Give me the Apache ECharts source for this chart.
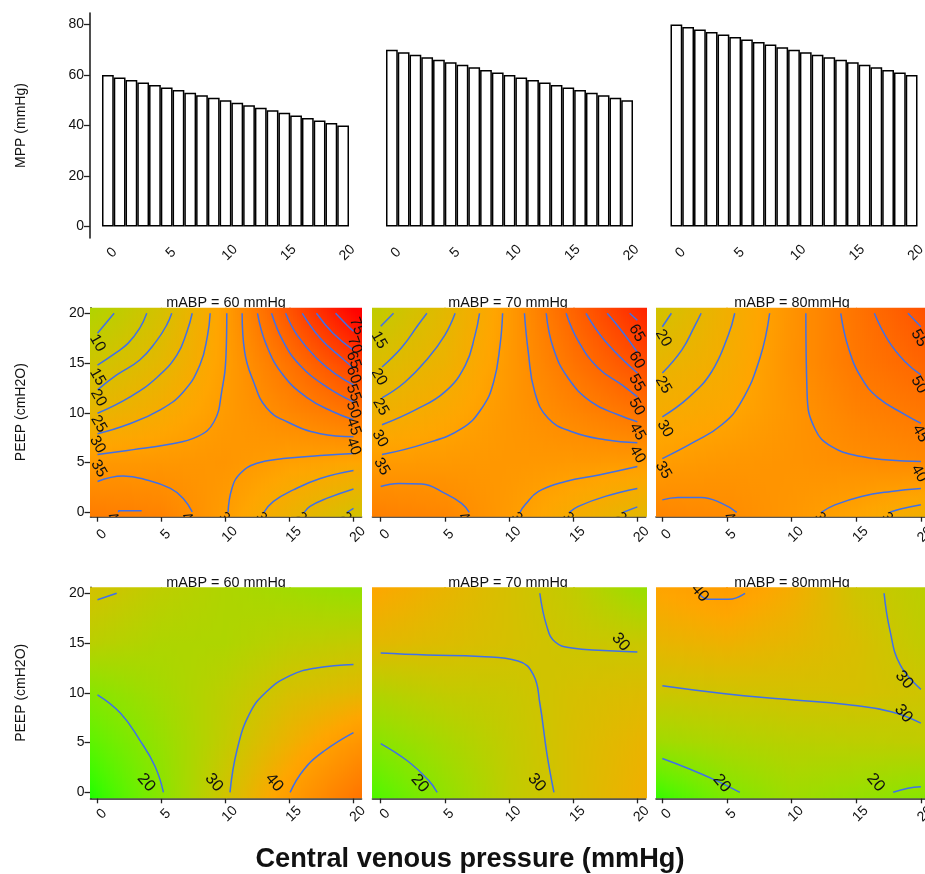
<!DOCTYPE html>
<html><head><meta charset="utf-8">
<style>html,body{margin:0;padding:0;background:#fff;overflow:hidden}#c{width:925px;height:874px;filter:blur(0.55px)}</style>
<script src="https://cdn.jsdelivr.net/npm/echarts@6/dist/echarts.min.js"></script>
</head><body><div id="c"></div>
<script>
const cvpCategories=['0','1','2','3','4','5','6','7','8','9','10','11','12','13','14','15','16','17','18','19','20'];
const mpp60=[60,59,58,57,56,55,54,53,52,51,50,49,48,47,46,45,44,43,42,41,40];
const mpp70=[70,69,68,67,66,65,64,63,62,61,60,59,58,57,56,55,54,53,52,51,50];
const mpp80=[80,79,78,77,76,75,74,73,72,71,70,69,68,67,66,65,64,63,62,61,60];
const tickLabels=[0,5,10,15,20];
const mppTicks=[0,20,40,60,80];
const nodes=[0,5,10,15,20];
// surface values at nodes; rows run from PEEP 20 down to PEEP 0
const upper60=[[7,18,35,56,78],[16,23.5,35,47.5,61],[25,30,36,41.5,47],[36.5,37,37.5,34.5,33],[44,42.5,35.5,27,19]];
const upper70=[[12.5,23,36,51.5,67],[20.5,26.5,36.5,47,57],[27.5,31.5,37,42,47],[36,36.5,37,36.5,36],[43,41.5,36,30,24.5]];
const upper80=[[18,28,38,47,56],[25,29.5,38.5,46,51],[30,32.5,37.5,43,46],[35.5,37,38,39.5,41],[41.5,40.2,37,33.5,29]];
const lower60=[[30,27,25,23.5,22],[26.5,25,25,27,28],[20,23.5,27,31,33],[15,21.5,28,35,42],[10,20,30,40,50]];
const lower70=[[37,34,31,28,23],[33,32,31,29.5,29],[26,28,29,31,32],[20,24,28,31.5,34],[14,21,27.5,31.5,35]];
const lower80=[[38,40,36,30,27],[34,35,33.5,31.5,28],[29.5,30,30.7,31,30],[23,25,26.5,27,27.5],[12,19,23,22,20.5]];
// contour polylines
const contUpper60=[
[[0,18],[1.3,20]],
[[0,14.8],[1.4,16],[2.4,17],[3.3,18.5],[3.85,20]],
[[0,12.3],[1.5,13.8],[3.3,15.3],[4.6,17.2],[5.4,18.8],[5.8,20]],
[[0,9.95],[2.55,11.6],[4.6,13.5],[6.2,15.8],[7,18.2],[7.4,20]],
[[0,7.9],[2.3,8.8],[4.9,10.3],[6.7,12.1],[8,14.8],[8.6,17.8],[8.8,20]],
[[0,5.8],[2.8,6.3],[5.4,6.8],[7.8,7.6],[9.1,9.1],[9.7,12.1],[10.05,16.1],[10.1,20]],
[[11.3,20],[11.5,16.1],[12.2,13.1],[13.2,10.5],[14.8,9.1],[17.4,7.9],[20,7.6]],
[[12.5,20],[13.2,16.8],[14.5,13.8],[16.4,11.5],[18.4,10.1],[20,9.3]],
[[13.6,20],[14.5,17.2],[15.8,14.8],[17.9,12.6],[20,11.1]],
[[14.7,20],[15.6,17.8],[17.1,15.5],[18.7,13.8],[20,12.8]],
[[16,20],[17.4,17.5],[19,15.6],[20,14.5]],
[[17.1,20],[18.4,18],[20,16.3]],
[[18.6,20],[19.5,18.8],[20,18.2]],
[[0,3.1],[2,3.65],[3.85,3.25],[5.7,2.4],[6.7,1.4],[7.4,0.05]],
[[1.65,0],[1.65,0.15],[3.45,0.15]],
[[20,5.9],[17.4,5.7],[14.5,5.4],[12.4,4.9],[11.15,3.9],[10.5,2.4],[10.2,0]],
[[20,4.2],[17.4,3.4],[15.3,2.25],[13.75,1.1],[13,0]],
[[20,2.35],[17.9,1.4],[16.6,0.6],[16.15,0]],
[[20,0.4],[19.5,0]]];
const contUpper70=[
[[0,18.7],[1,20]],
[[0.1,14.6],[1.6,16.5],[2.9,18.8],[3.6,20]],
[[0.1,11.5],[1.9,13.1],[3.7,15.5],[5,17.8],[5.8,20]],
[[0.1,8.8],[2.7,10.3],[5,12.1],[6.6,14.8],[7.35,17.8],[7.7,20]],
[[0.1,5.8],[3.45,6.9],[6.3,8.4],[7.9,10.5],[8.8,13.1],[9.3,16.8],[9.5,20]],
[[11.2,20],[11.5,16.1],[12,12.1],[13.05,9.45],[14.9,8.1],[17.5,7.3],[20,7]],
[[12.9,20],[13.45,16.5],[14.6,13.5],[16.4,11.1],[18.5,9.8],[20,9.1]],
[[14.45,20],[15.4,17.2],[16.95,14.5],[18.8,12.8],[20,11.6]],
[[16,20],[17.5,17.2],[20,14]],
[[17.65,20],[18.8,18.2],[20,16.1]],
[[19.4,20],[20,19.3]],
[[0,2.6],[1.4,2.9],[3.2,2.85],[5,1.9],[6.3,0.9],[6.9,0]],
[[20,4.6],[17,3.75],[14.4,3.1],[12.3,2.1],[11.25,0.75],[10.85,0]],
[[20,2.4],[17.5,1.6],[15.4,0.6],[14.7,0]],
[[20,0.55],[18.9,0]]];
const contUpper80=[
[[0,18.65],[0.7,20]],
[[0,14],[1.5,16.3],[2.5,18.7],[3,20]],
[[0,9.6],[2,11.5],[3.8,14.1],[5.1,17.8],[5.6,20]],
[[0,5.4],[2.5,7.1],[4.6,8.8],[6.1,11.1],[7.55,15.5],[8.3,20]],
[[11.1,20],[11.2,11.8],[11.8,8.4],[13.1,6.6],[15.4,5.6],[17.5,5.25],[20,5.1]],
[[13.8,20],[14.4,16.5],[15.4,13.5],[16.7,11.5],[18.8,9.8],[20,8.95]],
[[16.4,20],[17.5,17.2],[18.8,15.1],[20,13.8]],
[[19,20],[20,18.65]],
[[0,1.25],[1.2,1.5],[3,1.5],[4.6,0.9],[5.75,0]],
[[20,2.4],[17.7,2.1],[15.4,1.6],[13.35,0.75],[12.3,0]],
[[20,0.75],[18.5,0.35],[17.6,0]]];
const contLower60=[
[[0,9.8],[1.8,7.95],[3.3,5.25],[4.5,2.6],[5.15,0]],
[[10.35,0],[10.9,4.25],[11.9,7.95],[13.2,10.1],[15,11.7],[17.1,12.5],[20,12.85]],
[[15.05,0],[16.1,2.25],[17.65,4.1],[20,6]],
[[0,19.35],[1.5,20]]];
const contLower70=[
[[0,4.9],[2.15,3.1],[3.7,1.25],[4.4,0]],
[[0,14],[3.6,13.8],[7.75,13.65],[10.7,13.2],[11.9,11.8],[12.4,8.95],[12.95,3.9],[13.5,0]],
[[12.4,20],[12.95,16.65],[13.6,15.1],[14.9,14.5],[17.35,14.25],[20,14.1]]];
const contLower80=[
[[0,3.4],[2,2.4],[4.05,1.25],[6,0]],
[[17.85,0],[19,0.4],[20,0.55]],
[[0,10.7],[4.85,9.9],[9.5,9.35],[14.4,8.8],[17.7,8.1],[20,6.95]],
[[17.15,20],[17.6,16.3],[18.4,12.8],[20,10.35]],
[[2.9,19.85],[3.55,19.4],[5.1,19.4],[6.4,20]]];
// contour labels: cvp, peep, text, angle
const lblUpper60=[[0,17,'10',-60],[0,13.6,'15',-60],[0.08,11.5,'20',-60],[0.1,8.9,'25',-60],[0,6.8,'30',-60],[0.1,4.4,'35',-60],
[20.25,18.7,'75',-70],[20.1,16.8,'70',-70],[20,15.3,'65',-70],[20,13.8,'60',-70],[20,12,'55',-70],[20,10.3,'50',-70],[20,8.6,'45',-70],[20,6.6,'40',-70],
[1.4,-0.85,'45',-50],[7.2,-0.85,'40',-50],[10.1,-0.85,'35',-50],[13,-0.85,'30',-50],[16.1,-0.85,'25',-50],[19.6,-0.85,'20',-50]];
const lblUpper70=[[-0.13,17.3,'15',-60],[-0.13,13.6,'20',-60],[0,10.6,'25',-60],[-0.05,7.4,'30',-60],[0.08,4.6,'35',-60],
[19.95,18,'65',-60],[19.95,15.3,'60',-60],[19.95,13,'55',-60],[19.95,10.6,'50',-60],[20,8.1,'45',-60],[20,5.8,'40',-60],
[6.7,-0.85,'40',-50],[10.8,-0.85,'35',-50],[14.8,-0.85,'30',-50],[18.9,-0.85,'25',-50]];
const lblUpper80=[[0.08,17.5,'20',-60],[0.08,12.8,'25',-60],[0.2,8.4,'30',-60],[0.08,4.25,'35',-60],
[19.85,17.5,'55',-60],[19.85,12.8,'50',-60],[19.95,7.9,'45',-60],[19.85,3.9,'40',-60],
[5.4,-0.85,'40',-50],[12.4,-0.85,'35',-50],[17.6,-0.85,'30',-50]];
const lblLower60=[[3.8,0.97,'20',-50],[9.1,0.97,'30',-50],[13.8,0.97,'40',-50]];
const lblLower70=[[3.05,0.9,'20',-50],[12.15,0.97,'30',-50],[18.7,15.1,'30',-50]];
const lblLower80=[[2.9,20.05,'40',-50],[4.6,0.9,'20',-50],[16.5,0.97,'20',-50],[18.7,11.3,'30',-50],[18.65,7.9,'30',-50]];

const FONT='"Liberation Sans",Arial,sans-serif';
const INK='#111', BLUE='#3f70ea';
const barPanels=[{left:102,data:mpp60},{left:386,data:mpp70},{left:670.5,data:mpp80}];
const rows=[{top:307.7,h:209,ymin:-0.44,ymax:20.56,margin:22,green:-58,orange:33,red:80,pow:1,lblSize:15.5},
            {top:587.3,h:211,ymin:-0.6,ymax:20.6,margin:20,green:7,orange:38,red:85,pow:0.7,lblSize:16.5}];
const cols=[{left:90.5,w:271,xmin:-0.547,xmax:20.625},{left:372.5,w:273.2,xmin:-0.64,xmax:20.65},{left:656,w:271,xmin:-0.49,xmax:20.47}];
const tables=[[upper60,upper70,upper80],[lower60,lower70,lower80]];
const conts=[[contUpper60,contUpper70,contUpper80],[contLower60,contLower70,contLower80]];
const lbls=[[lblUpper60,lblUpper70,lblUpper80],[lblLower60,lblLower70,lblLower80]];
const titles=[['mABP = 60 mmHg',226],['mABP = 70 mmHg',508],['mABP = 80mmHg',792]];

function colour(z,r){
  let R,G;
  if(z<=r.orange){const t=Math.pow(Math.max(0,(z-r.green)/(r.orange-r.green)),r.pow);R=255*t;G=255-90*t*t;}
  else{const t=Math.min(1,(z-r.orange)/(r.red-r.orange));R=255;G=165*(1-t);}
  return 'rgb('+Math.round(R)+','+Math.round(G)+',0)';
}
function surface(table,gi,r,c){
  const data=[];
  for(let j=0;j<4;j++)for(let i=0;i<4;i++)data.push([nodes[i],nodes[j],i,j]);
  return {type:'custom',xAxisIndex:gi,yAxisIndex:gi,z:1,silent:true,clip:true,data,encode:{x:0,y:1},
    renderItem(p,api){
      const i=api.value(2),j=api.value(3);
      const x0=i===0?c.xmin:nodes[i],x1=i===3?c.xmax:nodes[i+1];
      const y0=j===0?r.ymin:nodes[j],y1=j===3?r.ymax:nodes[j+1];
      const a=api.coord([x0,y0]),b=api.coord([x1,y1]);
      const zAt=(x,y)=>{const u=(x-nodes[i])/5,v=(y-nodes[j])/5;
        const q00=table[4-j][i],q10=table[4-j][i+1],q01=table[3-j][i],q11=table[3-j][i+1];
        return q00*(1-u)*(1-v)+q10*u*(1-v)+q01*(1-u)*v+q11*u*v;};
      const children=[];
      const top=Math.floor(b[1]),bot=Math.ceil(a[1]);
      for(let px=Math.floor(a[0]);px<b[0];px+=2){
        const x=x0+(px+1-a[0])/(b[0]-a[0])*(x1-x0),stops=[];
        for(let k=0;k<=6;k++)stops.push({offset:k/6,color:colour(zAt(x,y1+(y0-y1)*k/6),r)});
        children.push({type:'rect',silent:true,shape:{x:px,y:top,width:2,height:bot-top},
          style:{fill:new echarts.graphic.LinearGradient(0,0,0,1,stops)}});
      }
      return {type:'group',children};
    }};
}
function labels(list,gi,size){
  return {type:'custom',xAxisIndex:gi,yAxisIndex:gi,z:4,silent:true,clip:true,
    data:list.map(l=>[l[0],l[1]]),encode:{x:0,y:1},
    renderItem(p,api){
      const q=api.coord([api.value(0),api.value(1)]),l=list[p.dataIndex];
      return {type:'text',silent:true,x:q[0],y:q[1],rotation:l[3]*Math.PI/180,
        style:{text:l[2],textAlign:'center',textVerticalAlign:'middle',font:size+'px '+FONT,fill:INK}};
    }};
}
const grid=[],xAxis=[],yAxis=[],series=[],title=[];
const rotLabel=m=>({rotate:45,align:'center',verticalAlign:'middle',margin:m,padding:[0,0,0,12],fontSize:14,fontFamily:FONT,color:INK});
barPanels.forEach((b,i)=>{
  grid.push({left:b.left,top:13,width:247,height:225,outerBoundsMode:'none'});
  xAxis.push({type:'category',gridIndex:i,data:cvpCategories,axisLine:{show:false,onZero:false},axisTick:{show:false},
    axisLabel:Object.assign(rotLabel(19),{interval:4}),splitLine:{show:false}});
  const y={type:'value',gridIndex:i,min:-4.5,max:84.5,splitLine:{show:false}};
  if(i===0)Object.assign(y,{offset:12,name:'MPP (mmHg)',nameLocation:'middle',nameGap:62,nameRotate:90,
      nameTextStyle:{fontSize:14,fontFamily:FONT,color:INK},
      axisLine:{show:true,lineStyle:{color:'#222',width:1.6}},
      axisTick:{show:true,length:6,customValues:mppTicks,lineStyle:{color:'#222',width:1.3}},
      axisLabel:{customValues:mppTicks,fontSize:14,fontFamily:FONT,color:INK,margin:6}});
  else y.show=false;
  yAxis.push(y);
  series.push({type:'bar',xAxisIndex:i,yAxisIndex:i,data:b.data,barCategoryGap:'0%',silent:true,
    itemStyle:{color:'#fff',borderColor:'#000',borderWidth:1.5}});
});
rows.forEach((r,ri)=>cols.forEach((c,ci)=>{
  const gi=grid.length;
  grid.push({left:c.left,top:r.top,width:c.w,height:r.h,outerBoundsMode:'none'});
  xAxis.push({type:'value',gridIndex:gi,min:c.xmin,max:c.xmax,splitLine:{show:false},
    axisLine:{show:true,onZero:false,lineStyle:{color:'#222',width:1.6}},
    axisTick:{show:true,length:5,customValues:tickLabels,lineStyle:{color:'#222',width:1.3}},
    axisLabel:Object.assign(rotLabel(r.margin),{customValues:tickLabels})});
  const y={type:'value',gridIndex:gi,min:r.ymin,max:r.ymax,splitLine:{show:false}};
  if(ci===0)Object.assign(y,{name:'PEEP (cmH2O)',nameLocation:'middle',nameGap:62,nameRotate:90,
      nameTextStyle:{fontSize:14,fontFamily:FONT,color:INK},
      axisLine:{show:true,onZero:false,lineStyle:{color:'#222',width:1.6}},
      axisTick:{show:true,length:6,customValues:tickLabels,lineStyle:{color:'#222',width:1.3}},
      axisLabel:{customValues:tickLabels,fontSize:14,fontFamily:FONT,color:INK,margin:6}});
  else y.show=false;
  yAxis.push(y);
  series.push(surface(tables[ri][ci],gi,r,c));
  conts[ri][ci].forEach(pts=>series.push({type:'line',xAxisIndex:gi,yAxisIndex:gi,z:3,data:pts,smooth:0.45,
    showSymbol:false,silent:true,clip:true,lineStyle:{color:BLUE,width:1.5}}));
  series.push(labels(lbls[ri][ci],gi,r.lblSize));
  title.push({text:titles[ci][0],left:titles[ci][1],top:r.top-11.5,textAlign:'center',z:0,padding:0,
    textStyle:{fontSize:14.4,fontWeight:'normal',fontFamily:FONT,color:INK}});
}));
title.push({text:'Central venous pressure (mmHg)',left:470,top:846,textAlign:'center',z:0,padding:0,
  textStyle:{fontSize:27.2,fontWeight:'bold',fontFamily:FONT,color:'#111'}});
const chart=echarts.init(document.getElementById('c'),null,{renderer:'canvas'});
chart.setOption({animation:false,backgroundColor:'#fff',tooltip:{show:false},grid,xAxis,yAxis,series,title});
</script></body></html>
